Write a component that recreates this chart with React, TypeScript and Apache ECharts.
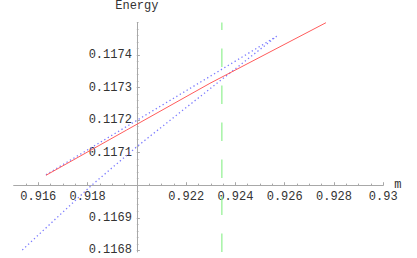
import React, { useEffect, useRef } from "react";
import * as echarts from "echarts";

// ---- data ----
const RED_M = [0.916311, 0.919586, 0.922966, 0.927674];
const RED_E = [0.1170304, 0.1171696, 0.117313, 0.1174992];

const BLUE_UP_M = [0.916311, 0.920016, 0.925673];
const BLUE_UP_E = [0.117032, 0.1172, 0.1174574];

const BLUE_LO_M = [0.91535, 0.918166, 0.92, 0.920937, 0.923453, 0.925673];
const BLUE_LO_E = [0.116801, 0.117, 0.1171183, 0.1171748, 0.1173253, 0.1174574];

const GREEN_M = [0.92345, 0.92345];
const GREEN_E = [0.116795, 0.1175];

const X_TICKS = [0.916, 0.918, 0.922, 0.924, 0.926, 0.928, 0.93];
const X_LABELS = ["0.916", "0.918", "0.922", "0.924", "0.926", "0.928", "0.93"];
const Y_TICKS = [0.1168, 0.1169, 0.1171, 0.1172, 0.1173, 0.1174];
const Y_LABELS = ["0.1168", "0.1169", "0.1171", "0.1172", "0.1173", "0.1174"];

const X_MIN = 0.915, X_MAX = 0.93, X_CROSS = 0.92;
const Y_MIN = 0.116795, Y_MAX = 0.1175, Y_CROSS = 0.117;

// ---- layout ----
const GL = 13.66, GT = 22.45, GW = 369.6, GH = 229.5;
const FONT = "'Liberation Mono', 'Courier New', monospace";
const AXIS_COLOR = "#a8a8a8";
const TEXT_COLOR = "#333";

function zip(a: number[], b: number[]) {
  return a.map((v, i) => [v, b[i]]);
}

export default function App() {
  const ref = useRef<HTMLDivElement>(null);
  useEffect(() => {
    if (!ref.current) return;
    const chart = echarts.init(ref.current, null, { renderer: "svg" });

    const xAxisPx = GT + (GH * (Y_MAX - Y_CROSS)) / (Y_MAX - Y_MIN);
    const xOffset = -(GT + GH - xAxisPx);
    const yOffset = -((GW * (X_CROSS - X_MIN)) / (X_MAX - X_MIN));

    const xMinor: number[] = [];
    for (let i = 1; i <= 30; i++) xMinor.push(+(X_MIN + i * 0.0005).toFixed(5));
    const yMinor: number[] = [];
    for (let i = 0; i <= 35; i++) yMinor.push(+(0.1168 + i * 0.00002).toFixed(6));

    const xLabel = (v: number) => {
      const i = X_TICKS.findIndex((t) => Math.abs(t - v) < 1e-7);
      return i >= 0 ? X_LABELS[i] : "";
    };
    const yLabel = (v: number) => {
      const i = Y_TICKS.findIndex((t) => Math.abs(t - v) < 1e-8);
      return i >= 0 ? Y_LABELS[i] : "";
    };

    const baseX = {
      type: "value" as const,
      min: X_MIN,
      max: X_MAX,
      position: "bottom" as const,
      offset: xOffset,
      splitLine: { show: false },
    };
    const baseY = {
      type: "value" as const,
      min: Y_MIN,
      max: Y_MAX,
      position: "left" as const,
      offset: yOffset,
      splitLine: { show: false },
    };
    const txt = { fontFamily: FONT, fontSize: 12, color: TEXT_COLOR };

    chart.setOption({
      animation: false,
      backgroundColor: "#ffffff",
      textStyle: { fontFamily: FONT },
      grid: { left: GL, top: GT, width: GW, height: GH, containLabel: false, outerBoundsMode: "none" },
      xAxis: [
        {
          ...baseX,
          name: "m",
          nameLocation: "end",
          nameGap: 11,
          nameTextStyle: txt,
          axisLine: { show: true, onZero: false, lineStyle: { color: AXIS_COLOR, width: 1 } },
          axisTick: { show: true, inside: true, length: 3, customValues: X_TICKS, lineStyle: { color: AXIS_COLOR } },
          axisLabel: { show: true, customValues: X_TICKS, formatter: xLabel, margin: 6, ...txt },
        },
        {
          ...baseX,
          axisLine: { show: false, onZero: false },
          axisTick: { show: true, inside: true, length: 1.6, customValues: xMinor, lineStyle: { color: AXIS_COLOR } },
          axisLabel: { show: false },
        },
      ],
      yAxis: [
        {
          ...baseY,
          name: "Energy",
          nameLocation: "end",
          nameGap: 10,
          nameTextStyle: txt,
          axisLine: { show: true, onZero: false, lineStyle: { color: AXIS_COLOR, width: 1 } },
          axisTick: { show: true, inside: true, length: 3, customValues: Y_TICKS, lineStyle: { color: AXIS_COLOR } },
          axisLabel: { show: true, customValues: Y_TICKS, formatter: yLabel, margin: 5, ...txt },
        },
        {
          ...baseY,
          axisLine: { show: false, onZero: false },
          axisTick: { show: true, inside: true, length: 1.6, customValues: yMinor, lineStyle: { color: AXIS_COLOR } },
          axisLabel: { show: false },
        },
      ],
      series: [
        {
          type: "line",
          data: zip(GREEN_M, GREEN_E),
          showSymbol: false,
          lineStyle: { color: "#8ef08e", width: 1.2, type: [18.5, 18.5] },
          silent: true,
        },
        {
          type: "line",
          data: zip(BLUE_LO_M, BLUE_LO_E),
          showSymbol: false,
          lineStyle: { color: "#7a7aff", width: 1.3, type: [1.3, 2.7] },
        },
        {
          type: "line",
          data: zip(BLUE_UP_M, BLUE_UP_E),
          showSymbol: false,
          lineStyle: { color: "#7a7aff", width: 1.3, type: [1.3, 2.7] },
        },
        {
          type: "line",
          data: zip(RED_M, RED_E),
          showSymbol: false,
          lineStyle: { color: "#ff5c5c", width: 1 },
        },
      ],
    });
    return () => chart.dispose();
  }, []);
  return (
    <div
      ref={ref}
      style={{ position: "fixed", left: 0, top: 0, width: 417, height: 258, background: "#fff" }}
    />
  );
}
